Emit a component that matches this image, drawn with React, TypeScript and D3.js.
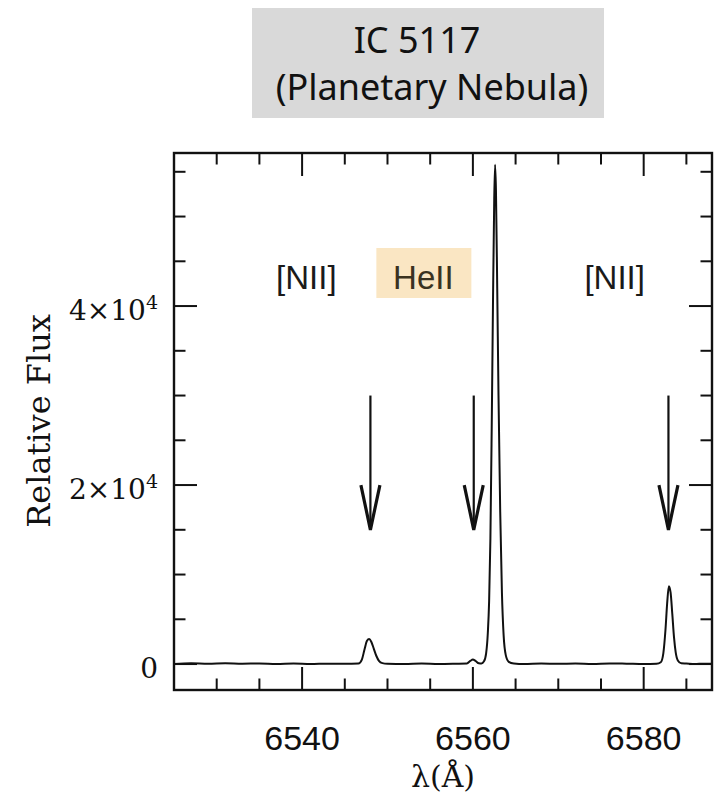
import React from "react";
import * as d3 from "d3";

// Spectrum samples: wavelength (Å) and relative flux
const wavelength = [
  6525.0, 6527.0, 6529.0, 6531.0, 6533.0, 6535.0, 6537.0, 6539.0, 6541.0, 6543.0,
  6545.0, 6546.6, 6547.0, 6547.3, 6547.6, 6547.85, 6548.1, 6548.4, 6548.7, 6549.0,
  6549.4, 6550.0, 6552.0, 6554.0, 6556.0, 6558.0, 6559.3, 6559.7, 6560.0, 6560.3,
  6560.7, 6561.0, 6561.3, 6561.55, 6561.75, 6561.9, 6562.05, 6562.2, 6562.35, 6562.5,
  6562.6, 6562.7, 6562.85, 6563.0, 6563.2, 6563.4, 6563.6, 6563.85, 6564.2, 6564.8,
  6566.0, 6568.0, 6570.0, 6572.0, 6574.0, 6576.0, 6578.0, 6580.0, 6581.5, 6582.0,
  6582.3, 6582.55, 6582.75, 6582.95, 6583.15, 6583.35, 6583.55, 6583.75, 6584.0, 6584.4,
  6585.0, 6586.0, 6587.0, 6588.0,
];
const flux = [
  0, 80, 20, 90, 40, 60, 10, 50, 0, 40,
  20, 60, 500, 1600, 2600, 2800, 2500, 1700, 900, 350,
  100, 30, 0, 50, 0, 30, 60, 350, 500, 350,
  80, 60, 300, 1200, 3500, 7000, 14000, 26000, 40000, 52000,
  55800, 53000, 42000, 30000, 17000, 8000, 3200, 1000, 250, 60,
  0, 50, 20, 60, 10, 70, 40, 0, 40, 200,
  1200, 3800, 6800, 8700, 8000, 5600, 3000, 1300, 400, 80,
  50, 0, 40, 20,
];

// Axis ticks
const xMinorTicks = [6530, 6535, 6540, 6545, 6550, 6555, 6560, 6565, 6570, 6575, 6580, 6585];
const xMajorTicks = [6540, 6560, 6580];
const yMinorTicks = [0, 5000, 10000, 15000, 20000, 25000, 30000, 35000, 40000, 45000, 50000, 55000];
const yMajorTicks = [0, 20000, 40000];
const yTickMantissa = ["0", "2×10", "4×10"];
const yTickExponent = ["", "4", "4"];

// Marked lines: label text, label wavelength, arrow wavelength
const lineLabels = ["[NII]", "HeII", "[NII]"];
const labelWavelength = [6540.5, 6554.2, 6576.6];
const arrowWavelength = [6548.0, 6560.1, 6582.9];

const W = 728;
const H = 797;
const frame = { left: 174, right: 712, top: 153, bottom: 690 };

export default function App() {
  const x = d3.scaleLinear().domain([6525, 6588]).range([frame.left, frame.right]);
  const y = d3.scaleLinear().domain([-2900, 57100]).range([frame.bottom, frame.top]);

  const pts: [number, number][] = wavelength.map((w, i) => [w, flux[i]]);
  const line = d3
    .line<[number, number]>()
    .x((d) => x(d[0]))
    .y((d) => y(d[1]))
    .curve(d3.curveMonotoneX);

  const serif = "'DejaVu Serif', serif";
  const sans = "'Liberation Sans', Arial, sans-serif";
  const minorLen = 11.5;
  const majorLen = 23;

  const arrowTop = 30000;
  const arrowWing = 20000;
  const arrowTip = 15000;
  const labelFlux = 42000;

  return (
    <svg
      width={W}
      height={H}
      viewBox={`0 0 ${W} ${H}`}
      style={{ position: "absolute", left: 0, top: 0, background: "#fff" }}
    >
      <rect x={0} y={0} width={W} height={H} fill="#fff" />

      {/* Title */}
      <rect x={252} y={8} width={352} height={110} fill="#d9d9d9" />
      <text
        x={417}
        y={53}
        textAnchor="middle"
        fontFamily="'Noto Sans', sans-serif"
        fontSize={36}
        fill="#111"
      >
        IC 5117
      </text>
      <text
        x={432}
        y={100}
        textAnchor="middle"
        fontFamily="'Noto Sans', sans-serif"
        fontSize={36}
        fill="#111"
      >
        (Planetary Nebula)
      </text>

      {/* Spectrum */}
      <path d={line(pts) || ""} fill="none" stroke="#111" strokeWidth={2} strokeLinejoin="round" />

      {/* X ticks, bottom and top, pointing inward */}
      {xMinorTicks.map((t) => {
        const len = xMajorTicks.includes(t) ? majorLen : minorLen;
        return (
          <g key={`xt${t}`} stroke="#111" strokeWidth={2}>
            <line x1={x(t)} x2={x(t)} y1={frame.bottom} y2={frame.bottom - len} />
            <line x1={x(t)} x2={x(t)} y1={frame.top} y2={frame.top + len} />
          </g>
        );
      })}

      {/* Y ticks, left and right, pointing inward */}
      {yMinorTicks.map((t) => {
        const len = yMajorTicks.includes(t) ? majorLen : minorLen;
        return (
          <g key={`yt${t}`} stroke="#111" strokeWidth={2}>
            <line x1={frame.left} x2={frame.left + len} y1={y(t)} y2={y(t)} />
            <line x1={frame.right} x2={frame.right - len} y1={y(t)} y2={y(t)} />
          </g>
        );
      })}

      {/* Frame */}
      <rect
        x={frame.left}
        y={frame.top}
        width={frame.right - frame.left}
        height={frame.bottom - frame.top}
        fill="none"
        stroke="#111"
        strokeWidth={2.4}
      />

      {/* X tick labels */}
      {xMajorTicks.map((t) => (
        <text
          key={`xl${t}`}
          x={x(t)}
          y={750}
          textAnchor="middle"
          fontFamily={sans}
          fontSize={34}
          fill="#111"
        >
          {t}
        </text>
      ))}

      {/* Y tick labels */}
      {yMajorTicks.map((t, i) => (
        <text
          key={`yl${t}`}
          x={158}
          y={y(t) + 14}
          textAnchor="end"
          fontFamily={serif}
          fontSize={28}
          fill="#111"
        >
          {yTickMantissa[i]}
          {yTickExponent[i] && (
            <tspan fontSize={19} dy={-11}>
              {yTickExponent[i]}
            </tspan>
          )}
        </text>
      ))}

      {/* Axis titles */}
      <text
        x={(frame.left + frame.right) / 2}
        y={787}
        textAnchor="middle"
        fontFamily={serif}
        fontSize={30}
        fill="#111"
      >
        λ(Å)
      </text>
      <text
        transform={`translate(50, 421) rotate(-90)`}
        textAnchor="middle"
        fontFamily={serif}
        fontSize={32}
        fill="#111"
      >
        Relative Flux
      </text>

      {/* Line identifications */}
      {lineLabels.map((s, i) => {
        const cx = x(labelWavelength[i]);
        const isHe = s === "HeII";
        return (
          <g key={`lab${i}`}>
            {isHe && <rect x={cx - 47} y={248} width={95} height={50} fill="#fae6c3" />}
            <text
              x={cx}
              y={y(labelFlux) + 1}
              textAnchor="middle"
              fontFamily={sans}
              fontSize={33}
              fill={isHe ? "#3a3220" : "#1a1a1a"}
            >
              {s}
            </text>
          </g>
        );
      })}

      {/* Arrows */}
      {arrowWavelength.map((w, i) => {
        const ax = x(w);
        return (
          <g key={`ar${i}`} stroke="#111" fill="none">
            <line x1={ax} x2={ax} y1={y(arrowTop)} y2={y(arrowTip) - 4} strokeWidth={2.2} />
            <path
              d={`M${ax - 9.5},${y(arrowWing)} L${ax},${y(arrowTip)} L${ax + 9.5},${y(arrowWing)}`}
              strokeWidth={3.2}
              strokeLinejoin="miter"
            />
          </g>
        );
      })}
    </svg>
  );
}
